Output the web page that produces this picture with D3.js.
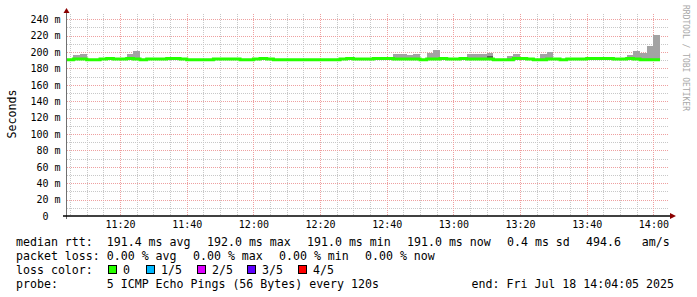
<!DOCTYPE html>
<html>
<head>
<meta charset="utf-8">
<script src="https://cdn.jsdelivr.net/npm/d3@7"></script>
<style>
  body { margin: 0; background: #fff; }
  svg text { font-family: "DejaVu Sans Mono", monospace; white-space: pre; }
</style>
</head>
<body>
<svg id="chart" width="697" height="297"></svg>
<script>
// time window of the graph and the 2 minute rrd steps
const rangeStart = new Date(2025, 6, 18, 11, 4, 5);
const rangeEnd = new Date(2025, 6, 18, 14, 4, 5);
const firstStep = new Date(2025, 6, 18, 11, 4, 0);
const stepMinutes = 2;

// median rtt per step (ms), all 5 pings answered
const medianRtt = [
  190.7,191.4,191.4,190.7,190.7,191.4,192.2,191.4,191.4,192.2,
  191.4,190.7,191.4,191.4,191.4,192.2,192.2,191.4,190.7,190.7,
  190.7,190.7,191.4,191.4,191.4,191.4,190.7,190.7,191.4,192.2,
  191.4,190.7,190.7,190.7,190.7,190.7,190.7,190.7,190.7,190.7,
  190.7,191.4,192.2,191.4,191.4,191.4,192.2,192.2,192.2,191.4,
  191.4,191.4,191.4,190.7,191.4,191.4,192.2,191.4,191.4,192.2,
  191.4,191.4,191.4,191.4,190.7,190.7,190.7,192.2,192.2,191.4,
  190.7,190.7,191.4,191.4,190.7,191.4,191.4,191.4,192.2,192.2,
  192.2,192.2,191.4,191.4,192.2,191.4,190.7,190.7,190.7
];

// slowest ping per step (ms) -> top of the smoke
const maxRtt = [
  191.5,196.8,198.0,191.5,191.5,192.2,193.0,192.2,192.2,198.0,
  200.8,191.5,192.2,192.2,192.2,193.0,193.0,192.2,191.5,191.5,
  191.5,191.5,192.2,192.2,192.2,192.2,191.5,191.5,192.2,193.0,
  192.2,191.5,191.5,191.5,191.5,191.5,191.5,191.5,191.5,191.5,
  191.5,192.2,193.0,192.2,192.2,192.2,193.0,193.0,193.0,197.0,
  198.2,195.8,198.2,191.5,199.2,202.8,193.0,192.2,192.2,193.0,
  197.0,197.0,197.0,199.2,191.5,191.5,195.6,198.0,193.0,192.2,
  191.5,198.0,200.4,192.2,191.5,192.2,192.2,192.2,193.0,193.0,
  193.0,193.0,192.2,192.2,196.8,201.6,199.2,207.2,221.3
];

// 4th ping, only visible above the median in one step
const innerSmokeSteps = [63];
const innerSmokeTop = [195.0];

const yTicks = [0, 20, 40, 60, 80, 100, 120, 140, 160, 180, 200, 220, 240];
const lossLabels = ["0", "1/5", "2/5", "3/5", "4/5"];
const lossColors = ["#26ff00", "#00b8ff", "#dd00ff", "#5e00ff", "#ff0000"];

const svg = d3.select("#chart");
const W = 697, H = 297;
const plotL = 67, plotR = 667, plotT = 14, plotB = 216;

const x = d3.scaleTime().domain([rangeStart, rangeEnd]).range([plotL, plotR]);
const y = d3.scaleLinear().domain([0, 246.4]).range([plotB, plotT]);
const px = v => Math.round(v) + 0.5;

svg.append("rect").attr("width", W).attr("height", H).attr("fill", "#fff");

svg.append("clipPath").attr("id", "plot")
  .append("rect").attr("x", plotL).attr("y", plotT).attr("width", plotR - plotL).attr("height", plotB - plotT);

// grid
const grid = svg.append("g").attr("shape-rendering", "crispEdges");
const minorY = d3.range(10, 246, 10).filter(v => v % 20 !== 0);
const majorY = yTicks.filter(v => v > 0);
const minorX = d3.timeMinute.every(5).range(rangeStart, rangeEnd).filter(d => d.getMinutes() % 20 !== 0);
const majorX = d3.timeMinute.every(20).range(rangeStart, rangeEnd);

grid.selectAll(".hmin").data(minorY).enter().append("line")
  .attr("x1", plotL).attr("x2", plotR + 1).attr("y1", d => px(y(d))).attr("y2", d => px(y(d)))
  .attr("stroke", "#c8c8c8").attr("stroke-dasharray", "1,1");
grid.selectAll(".vmin").data(minorX).enter().append("line")
  .attr("x1", d => px(x(d))).attr("x2", d => px(x(d))).attr("y1", plotT).attr("y2", plotB)
  .attr("stroke", "#c8c8c8").attr("stroke-dasharray", "1,1");
grid.selectAll(".hmaj").data(majorY).enter().append("line")
  .attr("x1", plotL).attr("x2", plotR + 1).attr("y1", d => px(y(d))).attr("y2", d => px(y(d)))
  .attr("stroke", "#eea0a0").attr("stroke-dasharray", "1,1");
grid.selectAll(".vmaj").data(majorX).enter().append("line")
  .attr("x1", d => px(x(d))).attr("x2", d => px(x(d))).attr("y1", plotT).attr("y2", plotB)
  .attr("stroke", "#eea0a0").attr("stroke-dasharray", "1,1");

// smoke + median
const steps = medianRtt.map((m, i) => ({
  t0: d3.timeMinute.offset(firstStep, i * stepMinutes),
  t1: d3.timeMinute.offset(firstStep, (i + 1) * stepMinutes),
  med: m,
  max: maxRtt[i]
}));

const data = svg.append("g").attr("clip-path", "url(#plot)");

data.selectAll(".smoke").data(steps).enter().append("rect")
  .attr("x", d => x(d.t0)).attr("width", d => x(d.t1) - x(d.t0))
  .attr("y", d => y(d.max)).attr("height", d => Math.max(0, y(d.med) - y(d.max)))
  .attr("fill", "#a3a3a3").attr("shape-rendering", "crispEdges");

data.selectAll(".inner").data(innerSmokeSteps).enter().append("rect")
  .attr("x", (s) => x(steps[s].t0)).attr("width", s => x(steps[s].t1) - x(steps[s].t0))
  .attr("y", (s, i) => y(innerSmokeTop[i]))
  .attr("height", (s, i) => y(steps[s].med) - y(innerSmokeTop[i]))
  .attr("fill", "#5a5a5a").attr("shape-rendering", "crispEdges");

const linePts = steps.map(d => [d.t0, d.med]);
linePts.push([steps[steps.length - 1].t1, steps[steps.length - 1].med]);

data.append("path")
  .datum(linePts)
  .attr("fill", "none")
  .attr("stroke", lossColors[0])
  .attr("stroke-width", 3)
  .attr("d", d3.line().x(d => x(d[0])).y(d => y(d[1])).curve(d3.curveStepAfter));

// axes
const yAxis = svg.append("g").attr("transform", `translate(${plotL - 0.5},0)`)
  .call(d3.axisLeft(y).tickValues(yTicks).tickSize(0).tickPadding(6)
    .tickFormat(d => d === 0 ? "0  " : d + " m"));
yAxis.select(".domain").remove();
yAxis.selectAll("text").attr("font-size", 10).attr("fill", "#000")
  .attr("font-family", "DejaVu Sans Mono");

const xAxis = svg.append("g").attr("transform", `translate(0,${plotB})`)
  .call(d3.axisBottom(x).tickValues(majorX).tickSize(0).tickPadding(5)
    .tickFormat(d3.timeFormat("%H:%M")));
xAxis.select(".domain").remove();
xAxis.selectAll("text").attr("font-size", 10).attr("fill", "#000")
  .attr("font-family", "DejaVu Sans Mono");

svg.append("line").attr("x1", plotL - 0.5).attr("x2", plotL - 0.5).attr("y1", 219).attr("y2", 10)
  .attr("stroke", "#707070");
svg.append("line").attr("x1", 63).attr("x2", 672).attr("y1", plotB).attr("y2", plotB)
  .attr("stroke", "#000").attr("stroke-width", 1.4);
svg.append("path").attr("d", "M66.5,8 L63.5,13 L69.5,13 Z").attr("fill", "#8b0000");
svg.append("path").attr("d", "M676,216 L670,213 L670,219 Z").attr("fill", "#8b0000");

// axis title and watermark
svg.append("text").attr("transform", "translate(15.5,114) rotate(-90)")
  .attr("text-anchor", "middle").attr("font-size", 11.6).text("Seconds");
svg.append("text").attr("transform", "translate(683,5) rotate(90)")
  .attr("font-size", 8).attr("fill", "#a8a8a8").text("RRDTOOL / TOBI OETIKER");

// legend rows
const rowY = [245.5, 259.5, 273.5, 287.5];
const legend = svg.append("g").attr("font-size", 11.6).attr("fill", "#000");
const rows = [
  [[16, "median rtt:  191.4 ms avg"], [207, "192.0 ms max"], [307, "191.0 ms min"],
   [407, "191.0 ms now"], [507, "0.4 ms sd"], [586, "494.6   am/s"]],
  [[16, "packet loss: 0.00 % avg"], [193, "0.00 % max"], [279, "0.00 % min"], [365, "0.00 % now"]],
  [[16, "loss color:"]],
  [[16, "probe:       5 ICMP Echo Pings (56 Bytes) every 120s"]]
];
rows.forEach((r, i) => r.forEach(([tx, s]) => {
  legend.append("text").attr("x", tx).attr("y", rowY[i]).text(s);
}));
legend.append("text").attr("x", 674).attr("y", rowY[3]).attr("text-anchor", "end")
  .text("end: Fri Jul 18 14:04:05 2025");

const boxX = [108, 146, 197, 247, 298];
lossLabels.forEach((l, i) => {
  legend.append("rect").attr("x", boxX[i] + 0.5).attr("y", 265.5).attr("width", 8).attr("height", 8)
    .attr("fill", lossColors[i]).attr("stroke", "#000").attr("shape-rendering", "crispEdges");
  legend.append("text").attr("x", boxX[i] + 15).attr("y", rowY[2]).text(l);
});
</script>
</body>
</html>
